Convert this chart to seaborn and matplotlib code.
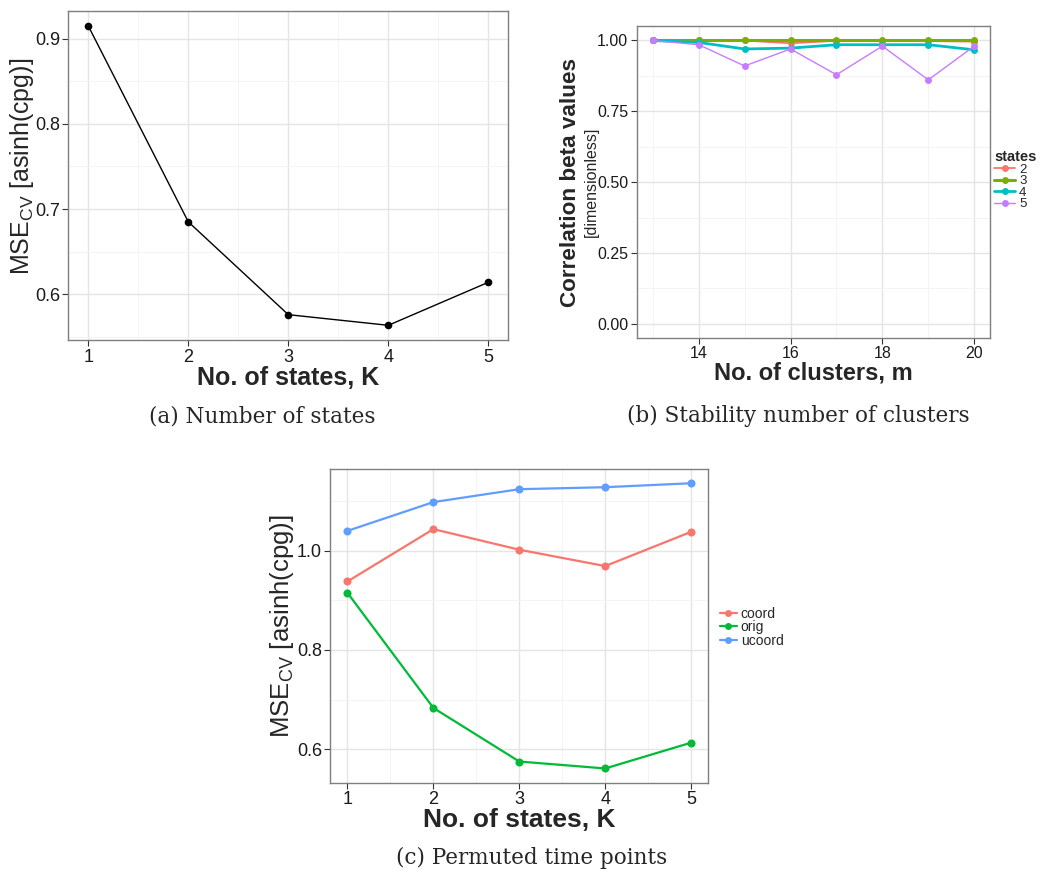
import numpy as np
import pandas as pd
import matplotlib
matplotlib.use("Agg")
import matplotlib.pyplot as plt
from matplotlib.lines import Line2D
from matplotlib.ticker import MultipleLocator, FixedLocator
import seaborn as sns

# ---------------- data ----------------
K_states = [1, 2, 3, 4, 5]
mse_orig = [0.915, 0.685, 0.576, 0.5635, 0.614]

m_clusters = [13, 14, 15, 16, 17, 18, 19, 20]
corr_state2 = [1.000, 1.000, 1.000, 0.990, 0.999, 0.999, 0.998, 0.996]
corr_state3 = [1.000, 1.000, 1.000, 1.000, 1.000, 1.000, 1.000, 1.000]
corr_state4 = [1.000, 0.993, 0.970, 0.973, 0.985, 0.985, 0.985, 0.967]
corr_state5 = [1.000, 0.985, 0.910, 0.970, 0.879, 0.980, 0.861, 0.980]
state_labels = ["2", "3", "4", "5"]

perm_coord = [0.938, 1.0435, 1.002, 0.969, 1.038]
perm_orig = [0.915, 0.683, 0.575, 0.561, 0.613]
perm_ucoord = [1.040, 1.098, 1.124, 1.128, 1.136]
perm_labels = ["coord", "orig", "ucoord"]

captions = ["(a) Number of states", "(b) Stability number of clusters", "(c) Permuted time points"]

# ---------------- style ----------------
sns.set_style("white")
plt.rcParams["font.family"] = ["Liberation Sans", "DejaVu Sans"]
plt.rcParams["mathtext.fontset"] = "custom"
plt.rcParams["mathtext.rm"] = "Liberation Sans"
plt.rcParams["mathtext.it"] = "Liberation Sans:italic"

pal4 = ["#F8766D", "#7CAE00", "#00BFC4", "#C77CFF"]
pal3 = ["#F8766D", "#00BA38", "#619CFF"]

fig = plt.figure(figsize=(10.4, 8.74), dpi=100)
W, H = 1040, 874


def add_ax(l, r, t, b):
    return fig.add_axes([l / W, 1 - b / H, (r - l) / W, (b - t) / H])


def style_ax(ax, xmin, ymin, lsize):
    ax.set_facecolor("white")
    for s in ax.spines.values():
        s.set_color("#7F7F7F")
        s.set_linewidth(1.0)
    ax.grid(True, which="major", color="#E5E5E5", linewidth=1.0)
    ax.grid(True, which="minor", color="#F3F3F3", linewidth=0.6)
    ax.set_axisbelow(True)
    ax.xaxis.set_minor_locator(MultipleLocator(xmin))
    ax.yaxis.set_minor_locator(MultipleLocator(ymin))
    ax.tick_params(which="major", direction="out", length=4, width=0.8,
                   color="#333333", labelsize=lsize, labelcolor="#1a1a1a",
                   bottom=True, left=True, pad=2)
    ax.tick_params(which="minor", length=0)


# ---- panel (a) ----
ax1 = add_ax(68.3, 508.3, 11, 340.3)
dfa = pd.DataFrame({"K": K_states, "mse": mse_orig})
sns.lineplot(data=dfa, x="K", y="mse", ax=ax1, color="black", linewidth=1.0,
             marker="o", markersize=5.5, markeredgewidth=0)
ax1.set_xlim(0.8, 5.2)
ax1.set_ylim(0.5459, 0.9326)
ax1.xaxis.set_major_locator(FixedLocator([1, 2, 3, 4, 5]))
ax1.yaxis.set_major_locator(FixedLocator([0.6, 0.7, 0.8, 0.9]))
ax1.set_yticklabels(["0.6", "0.7", "0.8", "0.9"])
style_ax(ax1, 0.5, 0.05, 13)
ax1.set_xlabel("No. of states, K", fontsize=18, fontweight="bold", labelpad=0)
ax1.set_ylabel(r"MSE$_{\mathrm{CV}}$ [asinh(cpg)]", fontsize=18)
ax1.yaxis.set_label_coords(-0.074, 0.527)

# ---- panel (b) ----
ax2 = add_ax(636.7, 990.3, 26.3, 338)
dfb = pd.DataFrame({
    "m": m_clusters * 4,
    "corr": corr_state2 + corr_state3 + corr_state4 + corr_state5,
    "states": sum([[s] * len(m_clusters) for s in state_labels], []),
})
sizes = {"2": 1.3, "3": 2.2, "4": 2.0, "5": 1.0}
sns.lineplot(data=dfb, x="m", y="corr", hue="states", size="states",
             sizes=sizes, palette=pal4, ax=ax2, marker="o", markersize=5,
             markeredgewidth=0, legend=False)
ax2.set_xlim(12.65, 20.35)
ax2.set_ylim(-0.05, 1.05)
ax2.xaxis.set_major_locator(FixedLocator([14, 16, 18, 20]))
ax2.yaxis.set_major_locator(FixedLocator([0, 0.25, 0.5, 0.75, 1.0]))
ax2.set_yticklabels(["0.00", "0.25", "0.50", "0.75", "1.00"])
style_ax(ax2, 1, 0.125, 11.5)
ax2.set_xlabel("No. of clusters, m", fontsize=17, fontweight="bold", labelpad=0)
ax2.set_ylabel("Correlation beta values", fontsize=16.2, fontweight="bold")
ax2.yaxis.set_label_coords(-0.158, 0.5)
ax2.text(-0.128, 0.5, "[dimensionless]", rotation=90, transform=ax2.transAxes,
         ha="center", va="center", fontsize=11.5)
hb = [Line2D([0], [0], color=c, lw=sizes[s], marker="o", markersize=5,
             markeredgewidth=0) for c, s in zip(pal4, state_labels)]
lg = fig.legend(hb, state_labels, title="states", loc="upper left",
                bbox_to_anchor=(994 / W, 1 - 150 / H), frameon=False,
                fontsize=9.5, handlelength=1.6, handletextpad=0.3,
                labelspacing=-0.05, borderaxespad=0, borderpad=0)
lg.get_title().set_fontweight("bold")
lg.get_title().set_fontsize(10.5)
lg._legend_box.align = "left"

# ---- panel (c) ----
ax3 = add_ax(330.3, 708.3, 469, 782.7)
dfc = pd.DataFrame({
    "K": K_states * 3,
    "mse": perm_coord + perm_orig + perm_ucoord,
    "type": sum([[t] * len(K_states) for t in perm_labels], []),
})
sns.lineplot(data=dfc, x="K", y="mse", hue="type", palette=pal3, ax=ax3,
             linewidth=1.6, marker="o", markersize=5.8, markeredgewidth=0,
             legend=False)
ax3.set_xlim(0.8, 5.2)
ax3.set_ylim(0.5323, 1.1647)
ax3.xaxis.set_major_locator(FixedLocator([1, 2, 3, 4, 5]))
ax3.yaxis.set_major_locator(FixedLocator([0.6, 0.8, 1.0]))
ax3.set_yticklabels(["0.6", "0.8", "1.0"])
style_ax(ax3, 0.5, 0.1, 13)
ax3.set_xlabel("No. of states, K", fontsize=19, fontweight="bold", labelpad=0)
ax3.set_ylabel(r"MSE$_{\mathrm{CV}}$ [asinh(cpg)]", fontsize=18.5)
ax3.yaxis.set_label_coords(-0.09, 0.5)
hc = [Line2D([0], [0], color=c, lw=1.6, marker="o", markersize=5,
             markeredgewidth=0) for c in pal3]
fig.legend(hc, perm_labels, loc="upper left",
           bbox_to_anchor=(720 / W, 1 - 607 / H), frameon=False,
           fontsize=10, handlelength=1.2, handletextpad=0.3,
           labelspacing=-0.05, borderaxespad=0, borderpad=0)

# ---- captions ----
cap_kw = dict(ha="center", va="center", fontsize=15.5,
              family=["DejaVu Serif"])
fig.text(262.5 / W, 1 - 416 / H, captions[0], **cap_kw)
fig.text(798 / W, 1 - 416 / H, captions[1], **cap_kw)
fig.text(532 / W, 1 - 858 / H, captions[2], **cap_kw)

fig.savefig("out.png", dpi=100, facecolor="white")
